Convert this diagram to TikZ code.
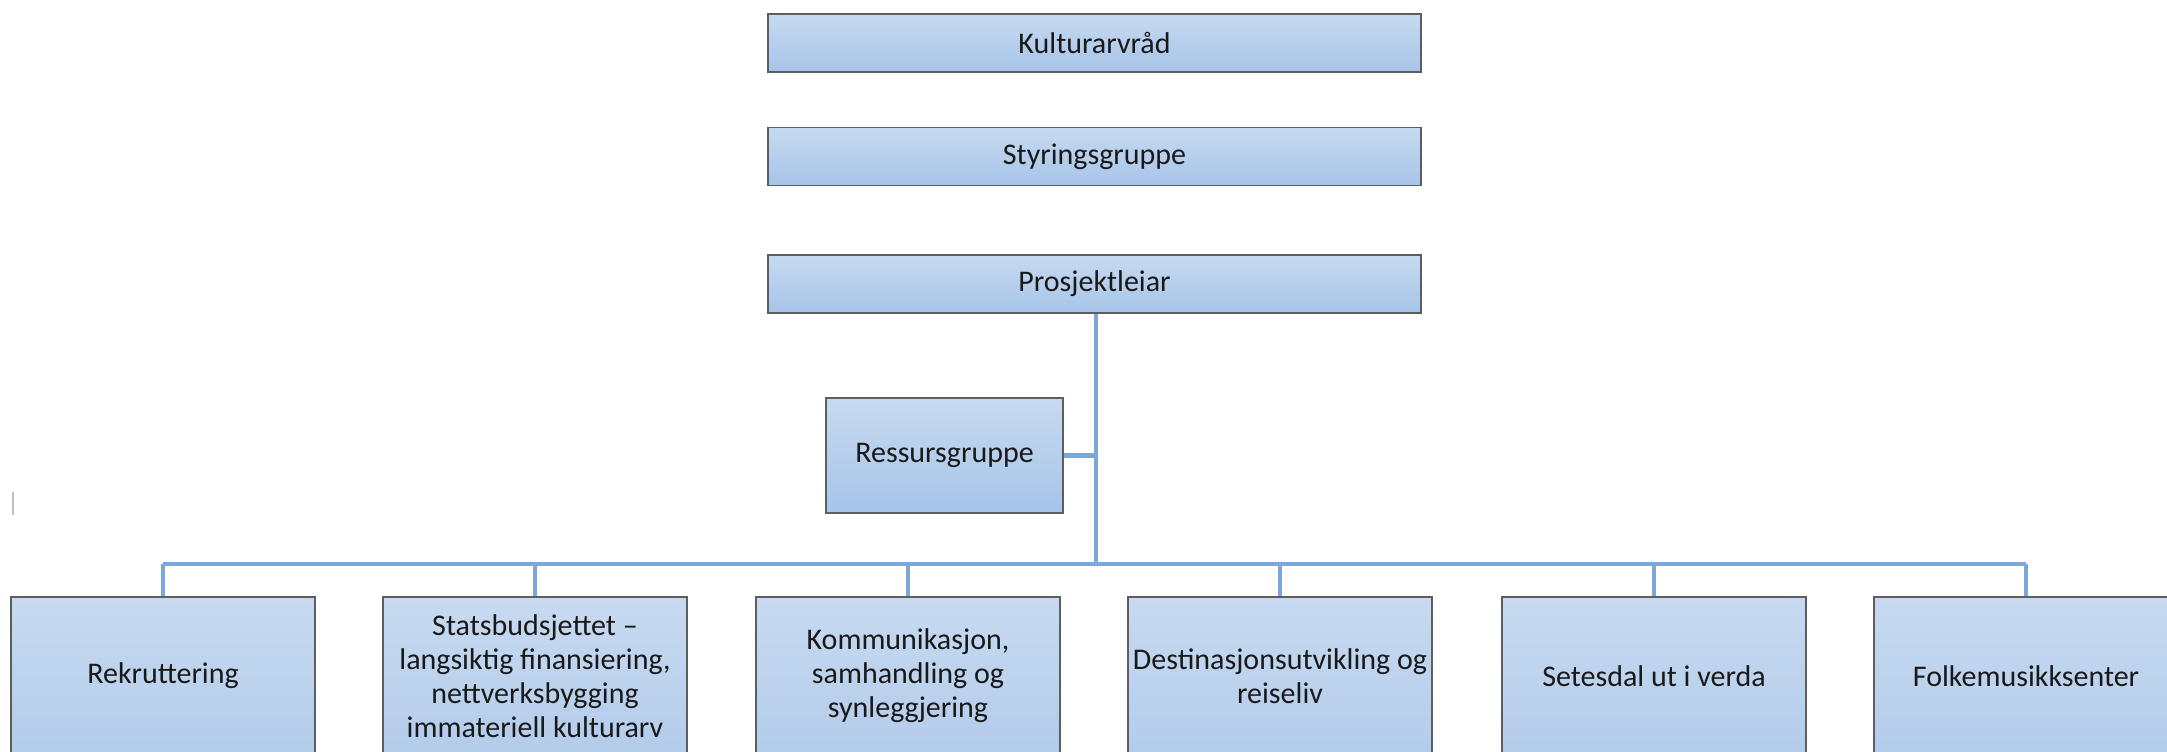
\documentclass[tikz,border=0pt]{standalone}
\usepackage{fontspec}
\setmainfont{Carlito}
\usetikzlibrary{shadings}
\definecolor{connblue}{HTML}{7BA7DA}
\definecolor{boxline}{HTML}{5E5E5E}
\definecolor{boxtop}{HTML}{C7DAF0}
\definecolor{boxbot}{HTML}{A6C4E9}
\definecolor{lowtop}{HTML}{C7DAF0}
\definecolor{lowbot}{HTML}{B3CCEB}
\begin{document}
\begin{tikzpicture}[x=0.5pt,y=-0.5pt,
  box/.style={draw=boxline, line width=0.8pt, top color=boxtop, bottom color=boxbot,
    inner sep=0pt, align=center, font=\fontsize{15}{17}\selectfont, text=black!90},
  topbox/.style={box, minimum width=326.5pt, minimum height=29pt},
  lowbox/.style={box, top color=lowtop, bottom color=lowbot, minimum width=152pt, minimum height=79pt},
  trunk/.style={draw=connblue, line width=2.4pt},
  drop/.style={draw=connblue, line width=1.6pt}]
\useasboundingbox (0,0) rectangle (2167,751);
\clip (0,0) rectangle (2167,751);
\fill[white] (0,0) rectangle (2167,751);

\node[topbox] (kult) at (1094.5,43) {Kulturarvråd};
\node[topbox] (styr) at (1094.5,156.5) {Styringsgruppe};
\node[topbox] (pro) at (1094.5,284) {Prosjektleiar};
\node[box, minimum width=118.5pt, minimum height=57.5pt] (res) at (944.5,455.5) {Ressursgruppe};

\node[lowbox] (b1) at (163,676) {Rekruttering};
\node[lowbox] (b2) at (535,676) {Statsbudsjettet –\\langsiktig finansiering,\\nettverksbygging\\immateriell kulturarv};
\node[lowbox] (b3) at (908,676) {Kommunikasjon,\\samhandling og\\synleggjering};
\node[lowbox] (b4) at (1280,676) {Destinasjonsutvikling og\\reiseliv};
\node[lowbox] (b5) at (1654,676) {Setesdal ut i verda};
\node[lowbox] (b6) at (2026,676) {Folkemusikksenter};

\coordinate (bj) at (1096,564);
\draw[trunk] (pro.south -| bj) -- (bj);
\draw[trunk] (res.east) -- (res.east -| bj);
\draw[trunk] (b1.north |- bj) -- (b6.north |- bj);
\foreach \b in {b1,b2,b3,b4,b5,b6}{
  \draw[drop] (\b.north |- bj) -- (\b.north);
}
\draw[gray!50, line width=1.2pt] (13,492) -- (13,515);
\end{tikzpicture}
\end{document}
